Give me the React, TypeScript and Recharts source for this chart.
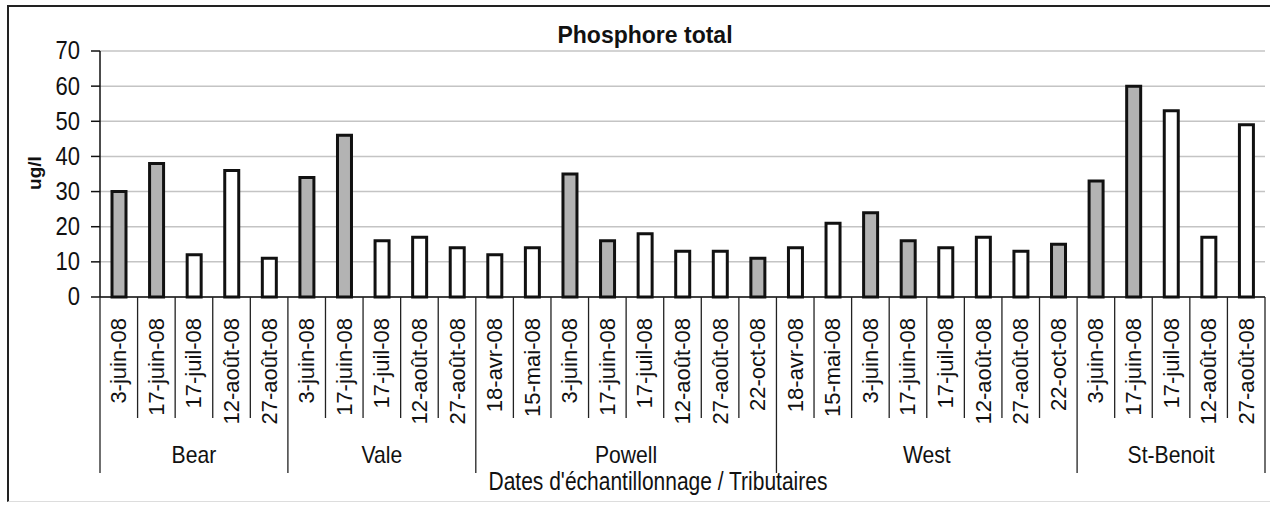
import React from 'react';
import { BarChart, Bar, Cell, XAxis, YAxis, CartesianGrid } from 'recharts';

const TRIBUTAIRES = ['Bear', 'Vale', 'Powell', 'West', 'St-Benoit'];
const NB_DATES = [5, 5, 8, 8, 5];

const DATES = [
  '3-juin-08', '17-juin-08', '17-juil-08', '12-août-08', '27-août-08',
  '3-juin-08', '17-juin-08', '17-juil-08', '12-août-08', '27-août-08',
  '18-avr-08', '15-mai-08', '3-juin-08', '17-juin-08', '17-juil-08', '12-août-08', '27-août-08', '22-oct-08',
  '18-avr-08', '15-mai-08', '3-juin-08', '17-juin-08', '17-juil-08', '12-août-08', '27-août-08', '22-oct-08',
  '3-juin-08', '17-juin-08', '17-juil-08', '12-août-08', '27-août-08',
];

// phosphore total, ug/l
const VALEURS = [
  30, 38, 12, 36, 11,
  34, 46, 16, 17, 14,
  12, 14, 35, 16, 18, 13, 13, 11,
  14, 21, 24, 16, 14, 17, 13, 15,
  33, 60, 53, 17, 49,
];

// 1 = barre grise, 0 = barre blanche
const GRIS = [
  1, 1, 0, 0, 0,
  1, 1, 0, 0, 0,
  0, 0, 1, 1, 0, 0, 0, 1,
  0, 0, 1, 1, 0, 0, 0, 1,
  1, 1, 0, 0, 0,
];

const Y_TICKS = [0, 10, 20, 30, 40, 50, 60, 70];

const FONT = '"Liberation Sans", Arial, sans-serif';

const W = 1270;
const H = 506;
const MARGIN = { top: 51, right: 5, bottom: 0, left: 8 };
const Y_AXIS_W = 92;
const X_AXIS_H = 209;
const CAT_W = (W - MARGIN.left - MARGIN.right - Y_AXIS_W) / DATES.length;

// index of first date of each tributaire
const debuts: number[] = [];
NB_DATES.reduce((acc, n) => {
  debuts.push(acc);
  return acc + n;
}, 0);

const data = DATES.map((d, i) => {
  let g = 0;
  for (let k = 0; k < debuts.length; k++) if (i >= debuts[k]) g = k;
  return { cle: `${TRIBUTAIRES[g]}|${d}|${i}`, date: d, valeur: VALEURS[i], gris: GRIS[i] };
});

// squeeze text horizontally around its anchor point
const serre = (x: number, y: number, s: number) => `translate(${x} ${y}) scale(${s} 1) translate(${-x} ${-y})`;

const DateTick = (props: any) => {
  const { x, y, index } = props;
  const gauche = x - CAT_W / 2;
  const g = debuts.indexOf(index);
  const estDebut = g >= 0;
  const last = index === DATES.length - 1;
  const cx = gauche + (NB_DATES[Math.max(g, 0)] * CAT_W) / 2;
  return (
    <g>
      <line x1={gauche} y1={y} x2={gauche} y2={y + (estDebut ? 176 : 121)} stroke="#222" strokeWidth={1.3} />
      {last && (
        <line x1={x + CAT_W / 2} y1={y} x2={x + CAT_W / 2} y2={y + 176} stroke="#222" strokeWidth={1.3} />
      )}
      <text
        x={x}
        y={y + 21}
        transform={`rotate(-90 ${x} ${y + 21})`}
        textAnchor="end"
        dominantBaseline="central"
        fontFamily={FONT}
        fontSize={22}
        fill="#111"
      >
        {DATES[index]}
      </text>
      {estDebut && (
        <text
          x={cx}
          y={y + 166}
          transform={serre(cx, y + 166, 0.92)}
          textAnchor="middle"
          fontFamily={FONT}
          fontSize={23}
          fill="#111"
        >
          {TRIBUTAIRES[g]}
        </text>
      )}
    </g>
  );
};

const ValeurTick = (props: any) => {
  const { x, y, payload } = props;
  return (
    <text
      x={x}
      y={y}
      transform={serre(x, y, 0.88)}
      textAnchor="end"
      dominantBaseline="central"
      fontFamily={FONT}
      fontSize={25}
      fill="#111"
    >
      {payload.value}
    </text>
  );
};

export default function App() {
  return (
    <div style={{ position: 'absolute', left: 0, top: 0, width: W, height: H, background: '#fff', overflow: 'hidden' }}>
      <div
        style={{
          position: 'absolute',
          left: 7,
          top: 5,
          width: W,
          height: 494,
          borderTop: '2px solid #222',
          borderLeft: '2px solid #222',
          borderBottom: '1px solid #ddd',
        }}
      />
      <BarChart width={W} height={H} data={data} margin={MARGIN} style={{ position: 'absolute', left: 0, top: 0 }}>
        <CartesianGrid horizontal vertical={false} stroke="#c4c4c4" strokeWidth={1.5} />
        <XAxis
          dataKey="cle"
          height={X_AXIS_H}
          interval={0}
          tickSize={0}
          tickMargin={0}
          axisLine={{ stroke: '#111', strokeWidth: 1.5 }}
          tick={<DateTick />}
        />
        <YAxis
          width={Y_AXIS_W}
          domain={[0, 70]}
          ticks={Y_TICKS}
          interval={0}
          tickSize={9}
          tickMargin={11}
          axisLine={{ stroke: '#111', strokeWidth: 1.5 }}
          tickLine={{ stroke: '#111', strokeWidth: 1.5 }}
          tick={<ValeurTick />}
        />
        <Bar dataKey="valeur" barSize={14} stroke="#111" strokeWidth={3} isAnimationActive={false}>
          {data.map((d, i) => (
            <Cell key={i} fill={d.gris ? '#b3b3b3' : '#ffffff'} />
          ))}
        </Bar>
      </BarChart>
      <svg width={W} height={H} style={{ position: 'absolute', left: 0, top: 0, pointerEvents: 'none' }}>
        <text x={645} y={43} textAnchor="middle" fontFamily={FONT} fontWeight="bold" fontSize={23} fill="#111">
          Phosphore total
        </text>
        <text
          x={34}
          y={173}
          transform="rotate(-90 34 173)"
          textAnchor="middle"
          dominantBaseline="central"
          fontFamily={FONT}
          fontWeight="bold"
          fontSize={19}
          fill="#111"
        >
          ug/l
        </text>
        <text x={658} y={490} transform={serre(658, 490, 0.84)} textAnchor="middle" fontFamily={FONT} fontSize={25} fill="#111">
          Dates d'échantillonnage / Tributaires
        </text>
      </svg>
    </div>
  );
}
